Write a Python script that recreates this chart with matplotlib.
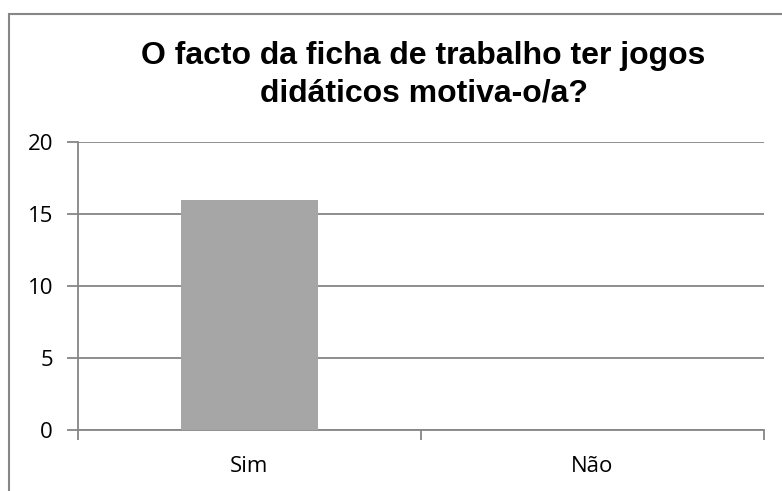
import numpy as np
import matplotlib.pyplot as plt
from matplotlib.patches import Rectangle

# chart data
categories = ['Sim', 'Não']
values = [16, 0]
title_lines = ['O facto da ficha de trabalho ter jogos', 'didáticos motiva-o/a?']

fig = plt.figure(figsize=(7.82, 4.91), dpi=100)
ax = fig.add_axes([0.0997, 0.1242, 0.8773, 0.5866])

# outer chart frame (cut off on right and bottom like the original)
fig.patches.append(Rectangle((8.5 / 782, -0.1), 1.2, (491 - 14) / 491 + 0.1,
                             transform=fig.transFigure, fill=False,
                             edgecolor='#868686', linewidth=1.5))

ind = np.arange(len(categories))
ax.bar(ind, values, width=0.4, color='#a6a6a6', zorder=3)

ax.set_xlim(-0.5, len(categories) - 0.5)
ax.set_ylim(0, 20)
ax.set_yticks(np.arange(0, 21, 5))
ax.yaxis.grid(True, color='#868686', linewidth=1.3)
ax.set_axisbelow(True)

for s in ['top', 'right']:
    ax.spines[s].set_visible(False)
for s in ['left', 'bottom']:
    ax.spines[s].set_color('#868686')
    ax.spines[s].set_linewidth(1.3)

ax.set_xticks(ind, categories)
ax.set_xticks(np.arange(-0.5, len(categories)), minor=True)
ax.tick_params(axis='x', which='major', length=0, pad=19)
ax.tick_params(axis='x', which='minor', length=7, width=1.3, color='#868686')
ax.tick_params(axis='y', length=8, width=1.3, color='#868686', pad=10)
for lab in ax.get_xticklabels() + ax.get_yticklabels():
    lab.set_fontfamily('Open Sans')
    lab.set_fontsize(16)

# title, two centred lines
for line, y_px in zip(title_lines, [64, 102]):
    fig.text(423.5 / 782, 1 - y_px / 491, line, ha='center', va='baseline',
             fontsize=23, fontweight='bold', fontfamily='Liberation Sans')

fig.savefig('out.png', dpi=100)
